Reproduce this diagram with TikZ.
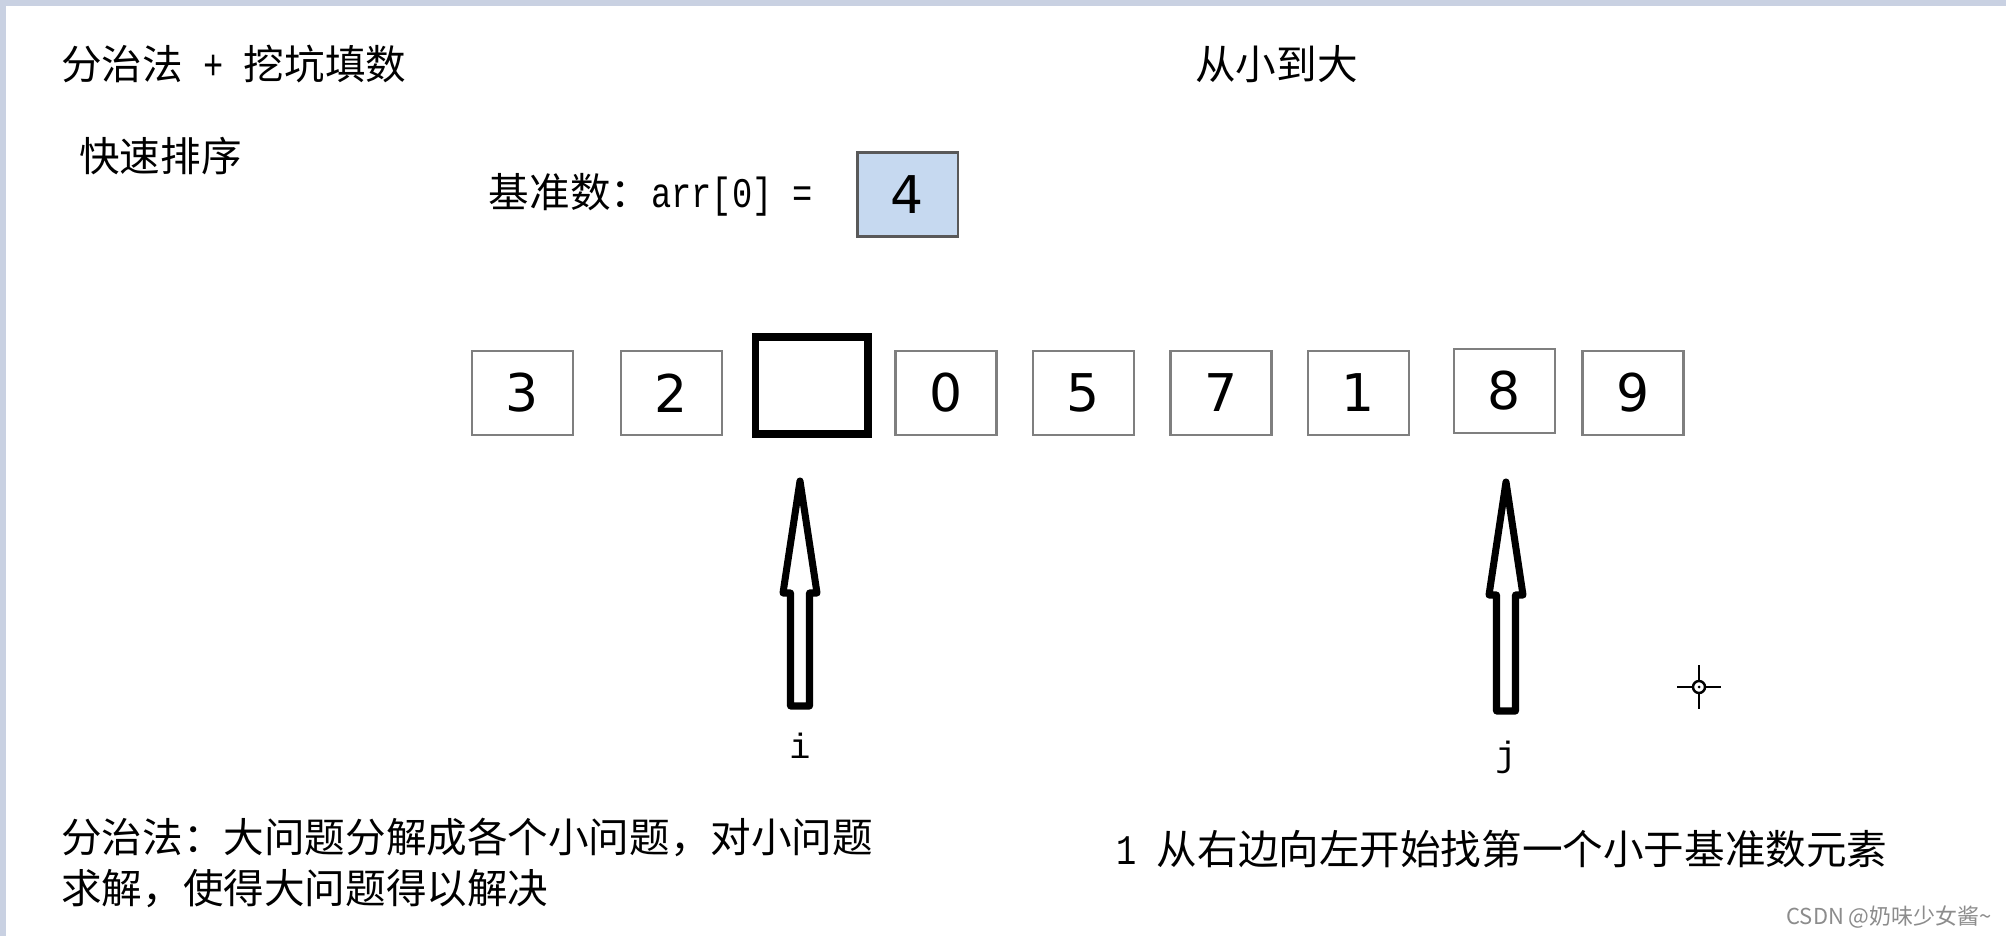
\documentclass[tikz,border=0pt]{standalone}
\usepackage{fontspec}
\setmainfont{Noto Sans CJK SC}
\newfontfamily\monofont{Liberation Mono}
\newfontfamily\halffont[FakeStretch=0.8]{Liberation Mono}
\newfontfamily\digitfont{DejaVu Sans}
\usepackage{tikz}
\usetikzlibrary{positioning,calc}
\definecolor{framebar}{HTML}{C9D1E2}
\definecolor{pivotblue}{HTML}{C6D9F0}
\definecolor{cellgray}{HTML}{7F7F7F}
\tikzstyle{txt} = [inner sep=0pt, font=\fontsize{23.1pt}{29pt}\selectfont]
\tikzstyle{cell} = [draw=cellgray, line width=1.4pt, fill=white, rectangle,
    minimum width=2.02cm, minimum height=1.68cm, inner sep=0pt,
    font=\digitfont\fontsize{29.6pt}{30pt}\selectfont]
\tikzstyle{hole} = [draw=black, line width=4.5pt, fill=white, rectangle,
    minimum width=2.26cm, minimum height=1.94cm]
\tikzstyle{pivot} = [cell, draw=black!65, fill=pivotblue, line width=1.7pt]
\tikzstyle{ptr} = [inner sep=0pt, font=\monofont\fontsize{20pt}{22pt}\selectfont]
\tikzstyle{hollow} = [draw=black, line width=4pt, fill=white, line join=round]

\begin{document}
\begin{tikzpicture}[auto, node distance=2.75cm, x=0.02cm, y=-0.02cm]
    % screen frame
    \useasboundingbox (0,0) rectangle (2006,936);
    \fill[framebar] (0,0) rectangle (2006,936);
    \fill[white] (6,6) rectangle (2006,936);

    % headings
    \node [txt, anchor=west] (title) at (61,64)
        {分治法{\halffont\fontsize{24pt}{29pt}\selectfont\ + }挖坑填数};
    \node [txt, anchor=west] (name) at (79,156) {快速排序};
    \node [txt, anchor=west] (order) at (1195,64) {从小到大};

    % the pivot and its label
    \node [pivot] (pivot) at (907.5,194.5) {4};
    \node [txt, left=0.84cm of pivot] (pivotlbl)
        {基准数：{\halffont\fontsize{24pt}{29pt}\selectfont arr[0] =}};

    % We place the array cells one after the other
    \node [cell] (c3) at (522.5,393) {3};
    \node [cell, right of=c3, node distance=2.98cm] (c2) {2};
    \node [hole, right of=c2, node distance=2.81cm, yshift=0.15cm] (pit) {};
    \node [cell, right of=c2, node distance=5.49cm] (c0) {0};
    \node [cell, right of=c0] (c5) {5};
    \node [cell, right of=c5] (c7) {7};
    \node [cell, right of=c7] (c1) {1};
    \node [cell, right of=c1, node distance=2.92cm, yshift=0.04cm] (c8) {8};
    \node [cell, right of=c1, node distance=5.49cm] (c9) {9};

    % pointers i and j
    \node [ptr] (ilbl) at (800,746) {i};
    \node [ptr] (jlbl) at (1506,757) {j};
    \coordinate (ibase) at (800,706);
    \coordinate (jbase) at (1506,711);
    \draw [hollow] (ibase) ++(-9.5,0) -- ++(0,-113) -- ++(-7.5,0) -- ++(17,-112)
        -- ++(17,112) -- ++(-7.5,0) -- ++(0,113) -- cycle;
    \draw [hollow] (jbase) ++(-9.5,0) -- ++(0,-116) -- ++(-7.5,0) -- ++(17,-113)
        -- ++(17,113) -- ++(-7.5,0) -- ++(0,116) -- cycle;

    % notes at the bottom
    \node [txt, anchor=west, align=left] (note) at (61,862.5)
        {分治法：大问题分解成各个小问题，对小问题\\求解，使得大问题得以解决};
    \node [txt, anchor=west] (step1) at (1116,849)
        {{\halffont\fontsize{24pt}{29pt}\selectfont 1 }从右边向左开始找第一个小于基准数元素};

    % cursor
    \coordinate (cur) at (1699,687);
    \draw [line width=1.4pt] (cur) circle (0.12cm);
    \fill (cur) circle (0.03cm);
    \draw [line width=1.6pt] (cur) ++(-22,0) -- ++(15,0) ++(14,0) -- ++(15,0);
    \draw [line width=1.6pt] (cur) ++(0,-22) -- ++(0,15) ++(0,14) -- ++(0,15);

    % watermark
    \node [anchor=east, inner sep=0pt, text=black!45,
        font=\fontsize{12.5pt}{14pt}\selectfont] (mark) at (1992,917)
        {CSDN @奶味少女酱\textasciitilde};
\end{tikzpicture}
\end{document}
